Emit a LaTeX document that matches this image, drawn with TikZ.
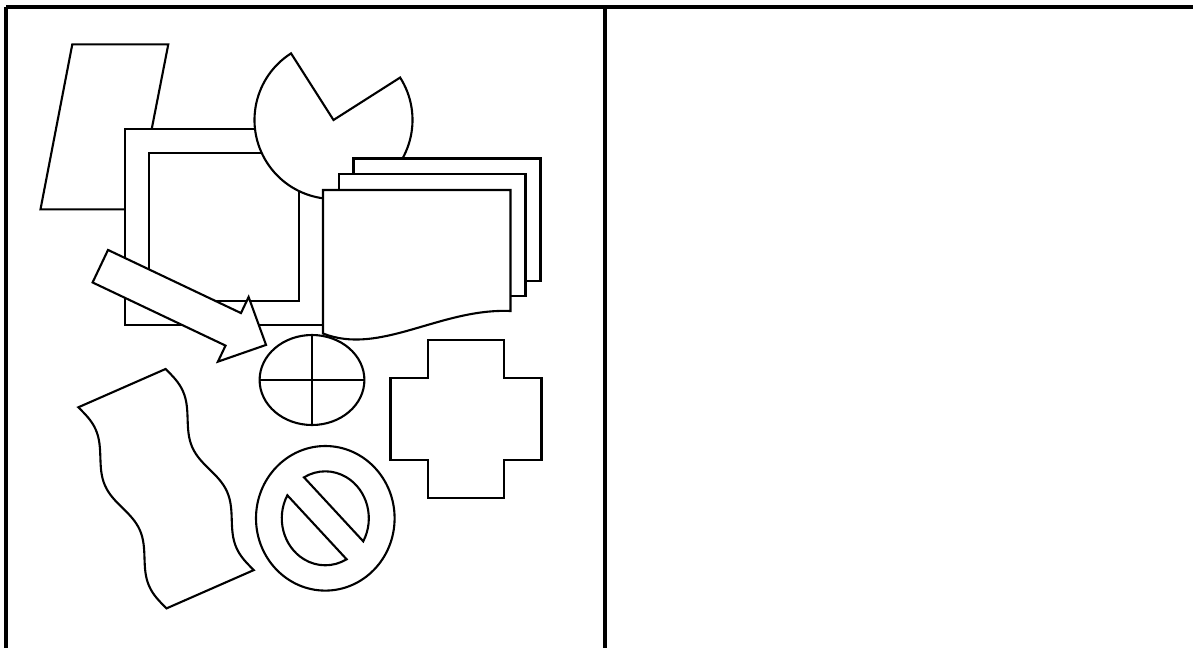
\documentclass[tikz,border=0pt]{standalone}
\usepackage{tikz}
\usetikzlibrary{shapes.geometric}

\begin{document}
\begin{tikzpicture}[x=1pt, y=1pt,
    outline/.style={draw, fill=white, line width=2.1pt},
    cellrule/.style={line width=3.2pt}
]
\useasboundingbox (0,0) rectangle (1193,-648);

% table rules
\coordinate (topleft) at (6,-7);
\coordinate (topright) at (1193,-7);
\draw[cellrule] (topleft) -- (topright);
\draw[cellrule] (topleft) -- (6,-648);
\draw[cellrule] (605,-7) -- (605,-648);

% parallelogram
\draw[outline] (72.3,-44.3) -- (168.3,-44.3) -- (136,-209.3) -- (40.5,-209.3) -- cycle;

% frame
\draw[outline] (125,-129) rectangle (323,-325);
\draw[outline] (149.3,-153.3) rectangle (299.3,-301);

% pie
\draw[outline] (333.5,-120) -- ++(122.5:79) arc[start angle=122.5, end angle=392.5, radius=79] -- cycle;

% documents
\draw[outline] (353.5,-158.5) rectangle (540.5,-281);
\draw[outline] (339,-174) rectangle (525.5,-296);
\draw[outline] (323,-333.5) -- (323,-190) -- (510.5,-190) -- (510.5,-311)
    .. controls (440,-308) and (380,-356) .. (323,-333.5) -- cycle;

% arrow
\draw[outline, shift={(100.3,-266.2)}, rotate=-25.4]
    (0,18) -- (147.2,18) -- (147.2,35.8) -- (183.5,0) -- (147.2,-35.8) -- (147.2,-18) -- (0,-18) -- cycle;

% crossed ellipse
\node[ellipse, outline, inner sep=0pt, outer sep=0pt, minimum width=104.8, minimum height=90] (crossell) at (312,-380) {};
\draw[line width=2.1pt] (crossell.north) -- (crossell.south);
\draw[line width=2.1pt] (crossell.west) -- (crossell.east);

% plus
\draw[outline] (428,-340) -- (504,-340) -- (504,-377.7) -- (541.5,-377.7) -- (541.5,-460) -- (504,-460)
    -- (504,-497.7) -- (428,-497.7) -- (428,-460) -- (390.5,-460) -- (390.5,-377.7) -- (428,-377.7) -- cycle;

% tape
\draw[outline, shift={(78.3,-407.3)}, rotate=-66.3]
    (0,0) sin (27.45,7) cos (54.9,0) sin (82.35,-7) cos (109.8,0)
    sin (137.25,7) cos (164.7,0) sin (192.15,-7) cos (219.6,0)
    -- (219.6,95.3) sin (192.15,88.3) cos (164.7,95.3) sin (137.25,102.3) cos (109.8,95.3)
    sin (82.35,88.3) cos (54.9,95.3) sin (27.45,102.3) cos (0,95.3) -- cycle;

% forbidden sign
\draw[outline] (325.3,-518.3) ellipse [x radius=69.3, y radius=72.3];
\begin{scope}[shift={(325.3,-518.3)}, xscale=0.926, rotate=-45]
\draw[outline] (45.25,12.7) arc[start angle=15.7, end angle=164.3, radius=47] -- cycle;
\draw[outline] (-45.25,-12.7) arc[start angle=195.7, end angle=344.3, radius=47] -- cycle;
\end{scope}

\end{tikzpicture}
\end{document}
